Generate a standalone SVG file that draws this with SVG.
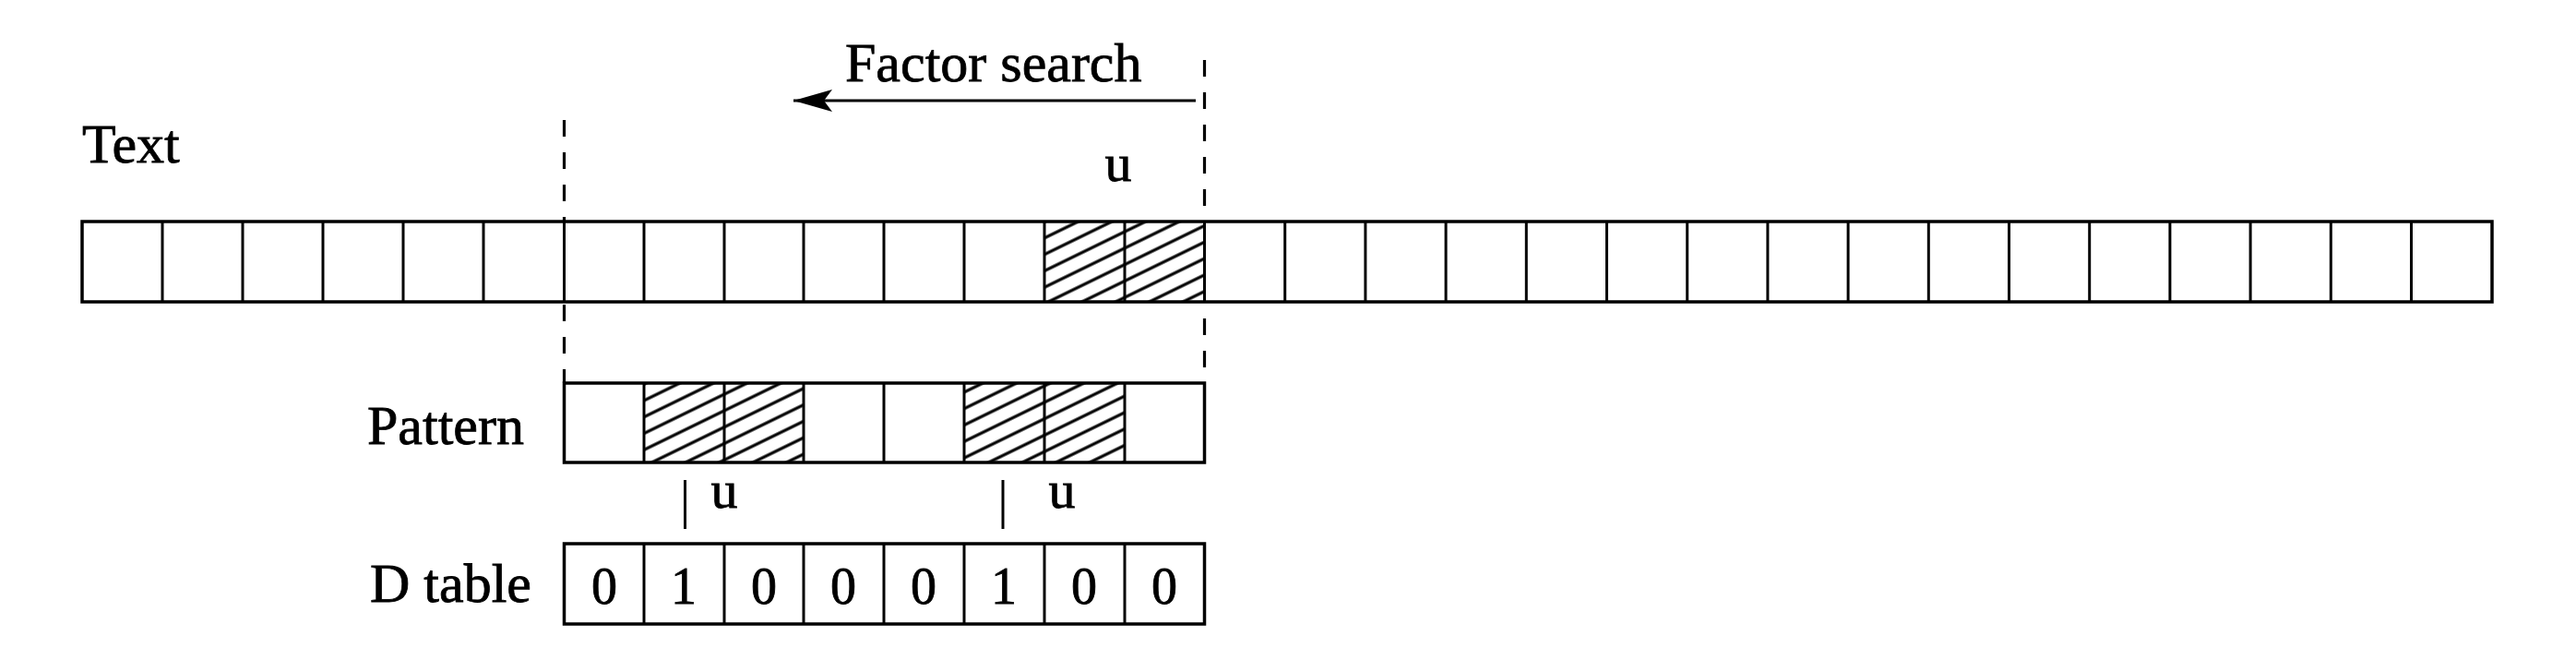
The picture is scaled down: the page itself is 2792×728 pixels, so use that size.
<svg xmlns="http://www.w3.org/2000/svg" width="2792" height="728" viewBox="0 0 2792 728">
  <style>
    .lbl { font-family: "Liberation Serif", "Times New Roman", serif; font-size: 60px; fill: #000; stroke: #000; stroke-width: 0.8; }
    .u { font-family: "Liberation Serif", "Times New Roman", serif; font-size: 58px; fill: #000; stroke: #000; stroke-width: 0.8; }
    .dig { font-family: "Liberation Serif", "Times New Roman", serif; font-size: 56px; fill: #000; stroke: #000; stroke-width: 0.8; text-anchor: middle; }
    .box { fill: none; stroke: #000; stroke-width: 3.5; }
    .cell { stroke: #000; stroke-width: 3; }
    .hatch { fill: url(#hatch); stroke: none; }
    .dash1 { stroke: #000; stroke-width: 3.2; stroke-dasharray: 18 17; fill: none; }
    .mark { stroke: #000; stroke-width: 3; }
  </style>
  <defs>
    <pattern id="hatch" patternUnits="userSpaceOnUse" width="20" height="16" patternTransform="rotate(-26)">
      <line x1="-2" y1="8" x2="22" y2="8" stroke="#000" stroke-width="3.2"/>
    </pattern>
    <marker id="arrow" markerUnits="userSpaceOnUse" markerWidth="50" markerHeight="30" viewBox="-44 -15 48 30" refX="0" refY="0" orient="auto">
      <path d="M0,0 L-42,-12 L-33,0 L-42,12 Z" fill="#000"/>
    </marker>
  </defs>
  <rect width="2792" height="728" fill="#fff"/>

  <g id="text-row">
    <rect class="hatch" x="1132" y="240" width="173.5" height="87"/>
    <rect class="box" x="89" y="240" width="2612" height="87"/>
    <g class="cell">
      <line x1="176" y1="240" x2="176" y2="327"/>
      <line x1="263" y1="240" x2="263" y2="327"/>
      <line x1="350" y1="240" x2="350" y2="327"/>
      <line x1="437" y1="240" x2="437" y2="327"/>
      <line x1="524" y1="240" x2="524" y2="327"/>
      <line x1="611.5" y1="240" x2="611.5" y2="327"/>
      <line x1="698" y1="240" x2="698" y2="327"/>
      <line x1="785" y1="240" x2="785" y2="327"/>
      <line x1="871" y1="240" x2="871" y2="327"/>
      <line x1="958" y1="240" x2="958" y2="327"/>
      <line x1="1045" y1="240" x2="1045" y2="327"/>
      <line x1="1132" y1="240" x2="1132" y2="327"/>
      <line x1="1219" y1="240" x2="1219" y2="327"/>
      <line x1="1305.5" y1="240" x2="1305.5" y2="327"/>
      <line x1="1392.7" y1="240" x2="1392.7" y2="327"/>
      <line x1="1479.9" y1="240" x2="1479.9" y2="327"/>
      <line x1="1567.1" y1="240" x2="1567.1" y2="327"/>
      <line x1="1654.3" y1="240" x2="1654.3" y2="327"/>
      <line x1="1741.5" y1="240" x2="1741.5" y2="327"/>
      <line x1="1828.7" y1="240" x2="1828.7" y2="327"/>
      <line x1="1915.9" y1="240" x2="1915.9" y2="327"/>
      <line x1="2003.1" y1="240" x2="2003.1" y2="327"/>
      <line x1="2090.3" y1="240" x2="2090.3" y2="327"/>
      <line x1="2177.5" y1="240" x2="2177.5" y2="327"/>
      <line x1="2264.7" y1="240" x2="2264.7" y2="327"/>
      <line x1="2351.9" y1="240" x2="2351.9" y2="327"/>
      <line x1="2439.1" y1="240" x2="2439.1" y2="327"/>
      <line x1="2526.3" y1="240" x2="2526.3" y2="327"/>
      <line x1="2613.5" y1="240" x2="2613.5" y2="327"/>
    </g>
    <text class="lbl" x="89" y="176">Text</text>
    <text class="u" x="1212" y="196" text-anchor="middle">u</text>
  </g>

  <g id="pattern-row">
    <rect class="hatch" x="698" y="415" width="173" height="86"/>
    <rect class="hatch" x="1045" y="415" width="174" height="86"/>
    <rect class="box" x="611.5" y="415" width="694" height="86"/>
    <g class="cell">
      <line x1="698" y1="415" x2="698" y2="501"/>
      <line x1="785" y1="415" x2="785" y2="501"/>
      <line x1="871" y1="415" x2="871" y2="501"/>
      <line x1="958" y1="415" x2="958" y2="501"/>
      <line x1="1045" y1="415" x2="1045" y2="501"/>
      <line x1="1132" y1="415" x2="1132" y2="501"/>
      <line x1="1219" y1="415" x2="1219" y2="501"/>
    </g>
    <text class="lbl" x="398" y="481">Pattern</text>
  </g>

  <g id="d-table">
    <rect class="box" x="611.5" y="589" width="694" height="87"/>
    <g class="cell">
      <line x1="698" y1="589" x2="698" y2="676"/>
      <line x1="785" y1="589" x2="785" y2="676"/>
      <line x1="871" y1="589" x2="871" y2="676"/>
      <line x1="958" y1="589" x2="958" y2="676"/>
      <line x1="1045" y1="589" x2="1045" y2="676"/>
      <line x1="1132" y1="589" x2="1132" y2="676"/>
      <line x1="1219" y1="589" x2="1219" y2="676"/>
    </g>
    <text class="lbl" x="401" y="652">D table</text>
    <text class="dig" x="655" y="654">0</text>
    <text class="dig" x="741" y="654">1</text>
    <text class="dig" x="828" y="654">0</text>
    <text class="dig" x="914" y="654">0</text>
    <text class="dig" x="1001" y="654">0</text>
    <text class="dig" x="1088" y="654">1</text>
    <text class="dig" x="1175" y="654">0</text>
    <text class="dig" x="1262" y="654">0</text>
  </g>

  <g id="connectors">
    <line class="dash1" x1="611.5" y1="130" x2="611.5" y2="240"/>
    <line class="dash1" x1="611.5" y1="330" x2="611.5" y2="415"/>
    <line class="dash1" x1="1305.5" y1="65" x2="1305.5" y2="240"/>
    <line class="dash1" x1="1305.5" y1="345" x2="1305.5" y2="415"/>
    <line x1="1296" y1="109" x2="860" y2="109" stroke="#000" stroke-width="3.2" marker-end="url(#arrow)"/>
    <text class="lbl" x="916" y="88">Factor search</text>
    <line class="mark" x1="742.5" y1="520" x2="742.5" y2="573"/>
    <text class="u" x="785" y="550" text-anchor="middle">u</text>
    <line class="mark" x1="1087" y1="520" x2="1087" y2="573"/>
    <text class="u" x="1151" y="550" text-anchor="middle">u</text>
  </g>
</svg>
